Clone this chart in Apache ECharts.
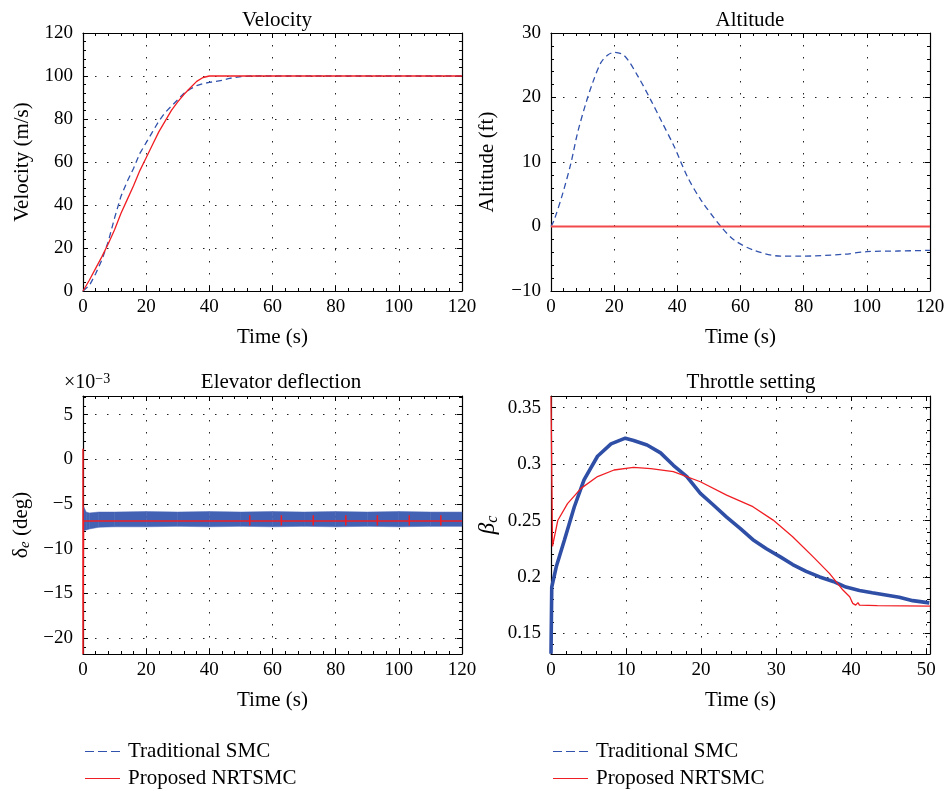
<!DOCTYPE html>
<html lang="en">
<head>
    <meta charset="utf-8">
    <title>Traditional SMC vs Proposed NRTSMC</title>
    <script src="https://cdn.jsdelivr.net/npm/echarts@6/dist/echarts.min.js"></script>
    <style>
        html, body, #main {
            width: 100%;
            height: 100%;
            margin: 0;
            padding: 0;
            overflow: hidden;
            background-color: #ffffff;
        }
    </style>
</head>
<body>
<div id="main"></div>
<script>
    // ---- data ----
    var seriesNames = ['Traditional SMC', 'Proposed NRTSMC'];

    // Velocity (m/s)
    var velTimeSmc = [0, 2, 4, 6, 8, 10, 12, 14, 16, 18, 20, 22, 24, 26, 28, 30, 32, 34, 36, 38, 40, 42, 44, 46, 48, 50, 53, 60, 120];
    var velSmc = [0, 2.5, 8, 14.5, 23, 34, 44, 51, 57, 64, 69, 74, 79, 83, 86, 89, 92, 94, 95.5, 96.5, 97, 97.5, 98, 98.8, 99.3, 99.7, 100, 100, 100];
    var velTimeNrt = [0, 2, 4, 6, 8, 10, 12, 14, 16, 18, 20, 22, 24, 26, 28, 30, 32, 34, 36, 38, 40, 120];
    var velNrt = [0, 5, 10.5, 16, 22, 28.5, 36, 42.5, 49, 56, 62, 68, 74, 79, 84, 88, 91.5, 94.5, 97.5, 99.3, 100, 100];

    // Altitude (ft)
    var altTimeSmc = [0, 1, 3.7, 6.3, 8.4, 11.1, 13.2, 15.8, 18, 20, 23.2, 27.4, 31.6, 34.8, 39, 43.2, 47.5, 53.8, 58, 64.3, 72.8, 79, 92.8, 100, 110, 120];
    var altSmc = [0, 1, 5.1, 9.8, 14.5, 19.2, 22.3, 25.4, 26.6, 27, 26.5, 23.4, 19.6, 16.5, 12.4, 7.7, 4.1, 0, -2.1, -3.7, -4.6, -4.6, -4.3, -3.9, -3.8, -3.7];
    var altTimeNrt = [0, 120];
    var altNrt = [0, 0];

    // Elevator deflection (x1e-3 deg): SMC chattering band, upper / lower edge
    var eleTimeSmc = [0.2, 1, 2, 5, 10, 20, 30, 40, 50, 60, 70, 80, 90, 100, 110, 120];
    var eleSmcUpper = [-5.3, -5.9, -6.0, -5.9, -5.9, -5.85, -5.9, -5.85, -5.9, -5.85, -5.9, -5.85, -5.9, -5.85, -5.9, -5.9];
    var eleSmcLower = [-8.0, -7.9, -7.8, -7.6, -7.55, -7.55, -7.5, -7.55, -7.5, -7.55, -7.5, -7.55, -7.5, -7.55, -7.5, -7.5];
    var eleTimeNrt = [0, 0, 0.15, 52.8, 52.8, 52.8, 52.8, 62.8, 62.8, 62.8, 62.8, 72.9, 72.9, 72.9, 72.9, 83.2, 83.2, 83.2, 83.2, 93.2, 93.2, 93.2, 93.2, 103.3, 103.3, 103.3, 103.3, 113.3, 113.3, 113.3, 113.3, 120];
    var eleNrt = [1.2, -21.8, -6.9, -6.9, -6.25, -7.4, -6.9, -6.9, -6.25, -7.4, -6.9, -6.9, -6.25, -7.4, -6.9, -6.9, -6.25, -7.4, -6.9, -6.9, -6.25, -7.4, -6.9, -6.9, -6.25, -7.4, -6.9, -6.9, -6.25, -7.4, -6.9, -6.9];

    // Throttle setting beta_c
    var thrTimeSmc = [0, 0.1, 0.7, 1.8, 3.1, 4.4, 6.2, 8, 9.9, 11, 12.8, 14.6, 16.3, 18.1, 19.9, 21.6, 23.4, 25.2, 26.9, 28.7, 30.5, 32.2, 34, 35.8, 37.6, 39.3, 41.1, 42.8, 44.6, 46.4, 48.2, 50.4];
    var thrSmc = [0.132, 0.191, 0.209, 0.233, 0.262, 0.286, 0.307, 0.318, 0.323, 0.321, 0.317, 0.31, 0.299, 0.289, 0.274, 0.264, 0.253, 0.243, 0.233, 0.225, 0.218, 0.211, 0.205, 0.2, 0.196, 0.191, 0.188, 0.186, 0.184, 0.182, 0.179, 0.177];
    var thrTimeNrt = [0, 0, 0.2, 0.9, 2.2, 4, 6.2, 8.4, 11, 13.3, 16.3, 19.9, 23.4, 26.9, 29.6, 32.2, 34.9, 37.1, 38.9, 39.8, 40.2, 40.6, 40.9, 41.1, 43.5, 50.5];
    var thrNrt = [0.36, 0.36, 0.227, 0.25, 0.265, 0.2785, 0.289, 0.2948, 0.2971, 0.296, 0.2933, 0.2844, 0.2726, 0.2623, 0.2504, 0.2357, 0.218, 0.2032, 0.1884, 0.1825, 0.1766, 0.175, 0.1772, 0.175, 0.1745, 0.1742];

    // ---- styling ----
    var serif = 'Liberation Serif';
    var blue = '#3152ad';
    var red = '#f01e23';

    function pairs(xs, ys) {
        var out = [];
        for (var i = 0; i < xs.length; i++) out.push([xs[i], ys[i]]);
        return out;
    }

    function minus(v) {
        return String(v).replace('-', '−');
    }

    var grids = [
        {left: 83, top: 33, width: 379, height: 258},
        {left: 551, top: 33, width: 379, height: 258},
        {left: 83, top: 396, width: 379, height: 258},
        {left: 551, top: 396, width: 379, height: 258}
    ];

    var dotted = {show: true, lineStyle: {color: '#222', width: 1, type: [1.5, 10.5]}};
    var tickFont = {fontFamily: serif, fontSize: 19, color: '#000'};

    function xAxis(gi, min, max, interval, extra) {
        var a = {
            type: 'value', gridIndex: gi, min: min, max: max, interval: interval,
            name: 'Time (s)', nameLocation: 'middle', nameGap: 36,
            nameTextStyle: {fontFamily: serif, fontSize: 21, color: '#000'},
            axisLine: {onZero: false, lineStyle: {color: '#000', width: 1.2}},
            axisTick: {inside: true, length: 5, lineStyle: {color: '#000'}},
            minorTick: {show: true, splitNumber: 5, length: 3, lineStyle: {color: '#000'}},
            axisLabel: Object.assign({margin: 7}, tickFont),
            splitLine: dotted
        };
        return Object.assign(a, extra || {});
    }

    function xAxisTop(gi, min, max, interval) {
        return {
            type: 'value', gridIndex: gi, min: min, max: max, interval: interval, position: 'top',
            axisLine: {onZero: false, lineStyle: {color: '#000', width: 1.2}},
            axisTick: {inside: true, length: 5, lineStyle: {color: '#000'}},
            minorTick: {show: true, splitNumber: 5, length: 3, lineStyle: {color: '#000'}},
            axisLabel: {show: false}, splitLine: {show: false}
        };
    }

    function yAxis(gi, min, max, interval, name, gap, extra) {
        var a = {
            type: 'value', gridIndex: gi, min: min, max: max,
            name: name, nameLocation: 'middle', nameGap: gap,
            nameTextStyle: {fontFamily: serif, fontSize: 21, color: '#000'},
            axisLine: {onZero: false, lineStyle: {color: '#000', width: 1.2}},
            axisTick: {inside: true, length: 5, lineStyle: {color: '#000'}},
            minorTick: {show: true, splitNumber: 5, length: 3, lineStyle: {color: '#000'}},
            axisLabel: Object.assign({margin: 10, formatter: minus}, tickFont),
            splitLine: dotted
        };
        if (interval) a.interval = interval;
        return Object.assign(a, extra || {});
    }

    function yAxisRight(gi, min, max, interval) {
        var a = {
            type: 'value', gridIndex: gi, min: min, max: max, position: 'right',
            axisLine: {show: true, onZero: false, lineStyle: {color: '#000', width: 1.2}},
            axisTick: {show: true, inside: true, length: 5, lineStyle: {color: '#000'}},
            minorTick: {show: true, splitNumber: 5, length: 3, lineStyle: {color: '#000'}},
            axisLabel: {show: false}, splitLine: {show: false}
        };
        if (interval) a.interval = interval;
        return a;
    }

    // legend icons: dashed and solid short strokes
    var dashIcon = 'path://M0,0h9v1h-9zM13,0h9v1h-9zM26,0h9v1h-9z';
    var solidIcon = 'path://M0,0h35v1h-35z';

    function legendAt(left) {
        return {
            data: [
                {name: seriesNames[0], icon: dashIcon},
                {name: seriesNames[1], icon: solidIcon}
            ],
            orient: 'vertical', left: left, top: 741, padding: 0,
            itemWidth: 35, itemHeight: 2, itemGap: 6,
            textStyle: {fontFamily: serif, fontSize: 21, lineHeight: 21, color: '#000', padding: [0, 0, 0, 3]}
        };
    }

    var dom = document.getElementById('main');
    var myChart = echarts.init(dom, null, {renderer: 'canvas'});

    var titleStyle = {fontFamily: serif, fontSize: 21, fontWeight: 'normal', color: '#000'};

    var option = {
        backgroundColor: '#fff',
        animation: false,
        title: [
            {text: 'Velocity', left: 272, top: 5, textAlign: 'center', textStyle: titleStyle},
            {text: 'Altitude', left: 745, top: 5, textAlign: 'center', textStyle: titleStyle},
            {text: 'Elevator deflection', left: 276, top: 367, textAlign: 'center', textStyle: titleStyle},
            {text: 'Throttle setting', left: 746, top: 367, textAlign: 'center', textStyle: titleStyle}
        ],
        legend: [legendAt(85), legendAt(553)],
        graphic: [
            {
                type: 'text', left: 64, top: 372,
                style: {
                    text: '×10{sup|−3}', fontFamily: serif, fontSize: 20, fill: '#000',
                    rich: {sup: {fontFamily: serif, fontSize: 14, verticalAlign: 'top', padding: [0, 0, 8, 0]}}
                }
            }
        ],
        grid: grids,
        xAxis: [
            xAxis(0, 0, 120, 20),
            xAxis(1, 0, 120, 20),
            xAxis(2, 0, 120, 20),
            xAxis(3, 0, 50.5, 10, {axisLabel: Object.assign({margin: 7, showMaxLabel: false}, tickFont)}),
            xAxisTop(0, 0, 120, 20),
            xAxisTop(1, 0, 120, 20),
            xAxisTop(2, 0, 120, 20),
            xAxisTop(3, 0, 50.5, 10)
        ],
        yAxis: [
            yAxis(0, 0, 120, 20, 'Velocity (m/s)', 50),
            yAxis(1, -10, 30, 10, 'Altitude (ft)', 53),
            yAxis(2, -21.8, 7.1, null, '{d|δ}{e|e}{n| (deg)}', 50, {
                splitNumber: 5,
                nameTextStyle: {
                    fontFamily: serif, fontSize: 21, color: '#000',
                    rich: {
                        d: {fontFamily: serif, fontSize: 22, lineHeight: 24},
                        e: {fontFamily: serif, fontSize: 15, fontStyle: 'italic', lineHeight: 24, verticalAlign: 'bottom', padding: [8, 0, 0, 0]},
                        n: {fontFamily: serif, fontSize: 21, lineHeight: 24}
                    }
                },
                axisLabel: Object.assign({margin: 10, showMinLabel: false, showMaxLabel: false, formatter: minus}, tickFont)
            }),
            yAxis(3, 0.1317, 0.3604, null, '{b|β}{c|c}', 50, {
                splitNumber: 5,
                nameTextStyle: {
                    fontFamily: serif, fontSize: 21, color: '#000',
                    rich: {
                        b: {fontFamily: serif, fontSize: 23, fontStyle: 'italic', lineHeight: 26},
                        c: {fontFamily: serif, fontSize: 16, fontStyle: 'italic', lineHeight: 26, verticalAlign: 'bottom', padding: [8, 0, 0, 0]}
                    }
                },
                axisLabel: Object.assign({margin: 10, showMinLabel: false, showMaxLabel: false}, tickFont)
            }),
            yAxisRight(0, 0, 120, 20),
            yAxisRight(1, -10, 30, 10),
            yAxisRight(2, -21.8, 7.1, null),
            yAxisRight(3, 0.1317, 0.3604, null)
        ],
        series: [
            {
                name: seriesNames[0], type: 'line', xAxisIndex: 0, yAxisIndex: 0, symbol: 'none',
                data: pairs(velTimeSmc, velSmc), itemStyle: {color: blue},
                lineStyle: {color: blue, width: 1.3, type: [6, 4]}, z: 3
            },
            {
                name: seriesNames[1], type: 'line', xAxisIndex: 0, yAxisIndex: 0, symbol: 'none',
                data: pairs(velTimeNrt, velNrt), itemStyle: {color: red},
                lineStyle: {color: red, width: 1.3}, z: 4
            },
            {
                name: seriesNames[0], type: 'line', xAxisIndex: 1, yAxisIndex: 1, symbol: 'none', smooth: 0.3,
                data: pairs(altTimeSmc, altSmc), itemStyle: {color: blue},
                lineStyle: {color: blue, width: 1.3, type: [6, 4]}, z: 3
            },
            {
                name: seriesNames[1], type: 'line', xAxisIndex: 1, yAxisIndex: 1, symbol: 'none',
                data: pairs(altTimeNrt, altNrt), itemStyle: {color: red},
                lineStyle: {color: '#f24a4a', width: 2}, z: 4
            },
            {
                name: 'SMC chattering band', type: 'custom', xAxisIndex: 2, yAxisIndex: 2,
                data: eleTimeSmc.map(function (t, i) { return [t, eleSmcLower[i], eleSmcUpper[i]]; }),
                encode: {x: 0, y: [1, 2]},
                renderItem: function (params, api) {
                    var i = params.dataIndex;
                    if (i >= eleTimeSmc.length - 1) return null;
                    var pts = [
                        api.coord([eleTimeSmc[i], eleSmcUpper[i]]),
                        api.coord([eleTimeSmc[i + 1], eleSmcUpper[i + 1]]),
                        api.coord([eleTimeSmc[i + 1], eleSmcLower[i + 1]]),
                        api.coord([eleTimeSmc[i], eleSmcLower[i]])
                    ];
                    return {
                        type: 'polygon', shape: {points: pts},
                        style: {fill: '#4462b4', stroke: '#4462b4', lineWidth: 0.5}
                    };
                },
                z: 3
            },
            {
                name: seriesNames[1], type: 'line', xAxisIndex: 2, yAxisIndex: 2, symbol: 'none',
                data: pairs(eleTimeNrt, eleNrt), itemStyle: {color: red},
                lineStyle: {color: red, width: 1.5}, z: 4
            },
            {
                name: seriesNames[0], type: 'line', xAxisIndex: 3, yAxisIndex: 3, symbol: 'none',
                data: pairs(thrTimeSmc, thrSmc), itemStyle: {color: blue},
                lineStyle: {color: '#2f4ea6', width: 3.6}, z: 3
            },
            {
                name: seriesNames[1], type: 'line', xAxisIndex: 3, yAxisIndex: 3, symbol: 'none',
                data: pairs(thrTimeNrt, thrNrt), itemStyle: {color: red},
                lineStyle: {color: red, width: 1.3}, z: 4
            }
        ]
    };

    myChart.setOption(option);
</script>
</body>
</html>
